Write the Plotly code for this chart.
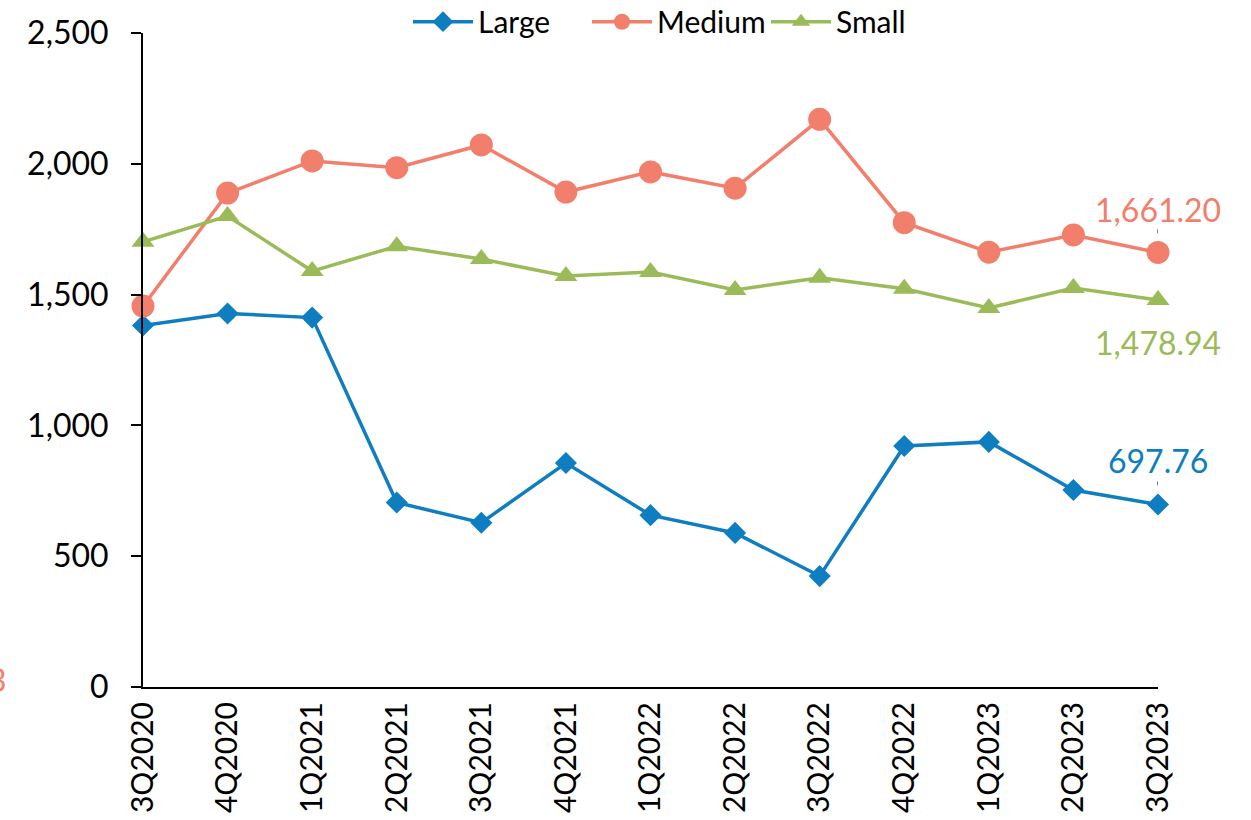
import plotly.graph_objects as go

quarters = ["3Q2020", "4Q2020", "1Q2021", "2Q2021", "3Q2021", "4Q2021", "1Q2022",
            "2Q2022", "3Q2022", "4Q2022", "1Q2023", "2Q2023", "3Q2023"]
large = [1382, 1428, 1412, 705, 628, 856, 657, 589, 424, 921, 937, 753, 697.76]
medium = [1456, 1888, 2011, 1985, 2072, 1892, 1969, 1907, 2170, 1775, 1662, 1728, 1661.20]
small = [1702, 1800, 1590, 1685, 1636, 1571, 1586, 1518, 1564, 1522, 1449, 1525, 1478.94]

C_LARGE = "#0E7EC0"
C_MEDIUM = "#F27F6B"
C_SMALL = "#9BBB59"
FONT = "Lato"

fig = go.Figure()
series = [
    ("Large", large, C_LARGE, "diamond", 17),
    ("Medium", medium, C_MEDIUM, "circle", 23),
    ("Small", small, C_SMALL, "triangle-up", 20),
]
for name, vals, col, sym, sz in series:
    fig.add_trace(go.Scatter(
        x=quarters, y=vals, name=name, mode="lines+markers",
        line=dict(color=col, width=3.5),
        marker=dict(symbol=sym, size=sz, color=col, line=dict(width=0)),
        cliponaxis=False,
    ))

# value labels on the latest quarter
last = quarters[-1]
labels = [
    (medium[-1], C_MEDIUM, 43, True),
    (small[-1], C_SMALL, -42, False),
    (large[-1], C_LARGE, 44, True),
]
for val, col, shift, leader in labels:
    fig.add_annotation(x=last, y=val, text=f"{val:,.2f}", showarrow=False,
                       yshift=shift, font=dict(family=FONT, size=32, color=col))
    if leader:
        fig.add_shape(type="line", xref="x", yref="y",
                      xsizemode="pixel", ysizemode="pixel",
                      xanchor=len(quarters) - 1, yanchor=val,
                      x0=0, x1=0, y0=19, y1=23,
                      line=dict(color="black", width=1))

# clipped fragment at the left edge
fig.add_annotation(xref="paper", yref="paper", x=-0.1325, y=0.011,
                   xanchor="right", yanchor="middle", text="3", showarrow=False,
                   font=dict(family=FONT, size=32, color=C_MEDIUM))

fig.update_layout(
    width=1251, height=820,
    margin=dict(l=143, r=93, t=33, b=133, autoexpand=False),
    paper_bgcolor="white", plot_bgcolor="white",
    font=dict(family=FONT, size=31, color="black"),
    showlegend=True,
    legend=dict(orientation="h", xref="container", yref="paper",
                x=408 / 1251, xanchor="left", y=1.057, yanchor="top",
                font=dict(family=FONT, size=30, color="black"),
                bgcolor="rgba(0,0,0,0)", itemwidth=60, tracegroupgap=0,
                entrywidth=104, entrywidthmode="pixels"),
)
fig.update_xaxes(
    type="category", range=[0, len(quarters) - 1], automargin=False,
    showgrid=False, zeroline=False,
    showline=True, linecolor="black", linewidth=2,
    ticks="", tickangle=-90, ticklabelstandoff=1,
    tickfont=dict(family=FONT, size=30, color="black"),
)
fig.update_yaxes(
    range=[0, 2500], dtick=500, tickformat=",", automargin=False,
    showgrid=False, zeroline=False,
    showline=True, linecolor="black", linewidth=2,
    ticks="outside", ticklen=10, tickwidth=2, tickcolor="black",
    ticklabelstandoff=16,
    tickfont=dict(family=FONT, size=32, color="black"),
)

fig.write_html("out.html")
